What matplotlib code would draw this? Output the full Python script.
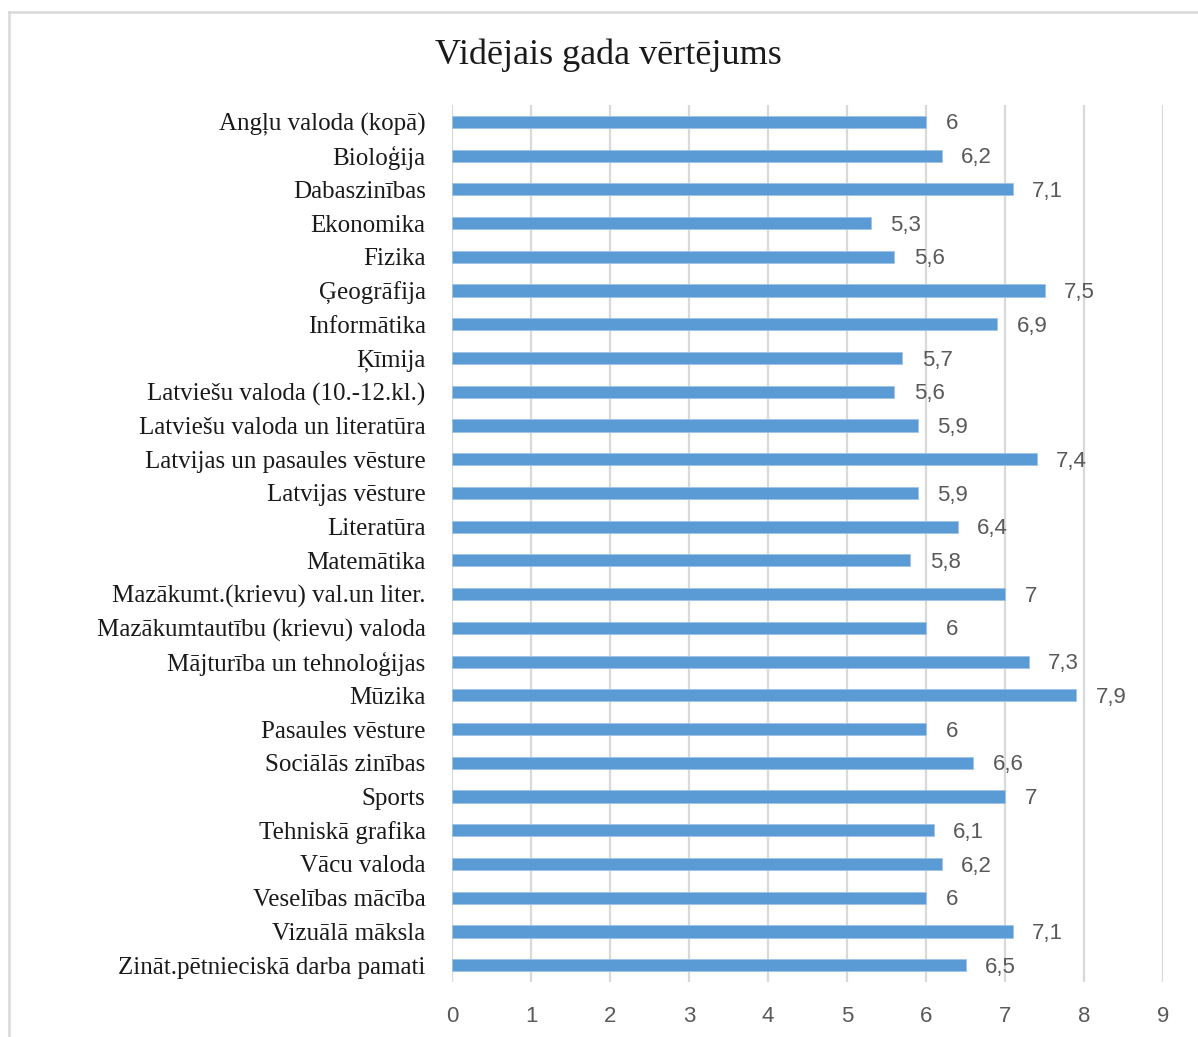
import matplotlib
matplotlib.use("Agg")
from matplotlib import pyplot as plt
from matplotlib.lines import Line2D

title = "Vidējais gada vērtējums"
subjects = [
    "Angļu valoda (kopā)",
    "Bioloģija",
    "Dabaszinības",
    "Ekonomika",
    "Fizika",
    "Ģeogrāfija",
    "Informātika",
    "Ķīmija",
    "Latviešu valoda (10.-12.kl.)",
    "Latviešu valoda un literatūra",
    "Latvijas un pasaules vēsture",
    "Latvijas vēsture",
    "Literatūra",
    "Matemātika",
    "Mazākumt.(krievu) val.un liter.",
    "Mazākumtautību (krievu) valoda",
    "Mājturība un tehnoloģijas",
    "Mūzika",
    "Pasaules vēsture",
    "Sociālās zinības",
    "Sports",
    "Tehniskā grafika",
    "Vācu valoda",
    "Veselības mācība",
    "Vizuālā māksla",
    "Zināt.pētnieciskā darba pamati",
]
grades = [6, 6.2, 7.1, 5.3, 5.6, 7.5, 6.9, 5.7, 5.6, 5.9, 7.4, 5.9, 6.4,
          5.8, 7, 6, 7.3, 7.9, 6, 6.6, 7, 6.1, 6.2, 6, 7.1, 6.5]
x_ticks = list(range(10))

bar_color = "#5B9BD5"
grid_color = "#D9D9D9"
text_gray = "#595959"

fig = plt.figure(figsize=(11.98, 10.37), dpi=100)
ax = fig.add_axes([0.3773, 0.053, 0.5935, 0.8457])

pos = list(range(len(subjects)))
ax.barh(pos, grades, height=0.36, color=bar_color, edgecolor="#9DC3E6",
        linewidth=0.6, zorder=3)

# value labels use a decimal comma like the original
for y, v in zip(pos, grades):
    lbl = f"{v:g}".replace(".", ",")
    ax.annotate(lbl, (v, y), xytext=(14, -1.5), textcoords="offset points",
                va="center", ha="left", fontsize=16, color=text_gray,
                family="Liberation Sans")

ax.set_xlim(0, 9)
ax.set_ylim(len(subjects) - 0.5, -0.5)
ax.set_xticks(x_ticks)
ax.set_xticklabels([str(t) for t in x_ticks], fontsize=16, color=text_gray,
                   family="Liberation Sans")
ax.set_yticks(pos)
ax.set_yticklabels(subjects, fontsize=18, color="#1a1a1a",
                   family="Liberation Serif")
ax.tick_params(axis="both", length=0)
ax.tick_params(axis="y", pad=19)
ax.tick_params(axis="x", pad=17)
ax.grid(axis="x", color=grid_color, linewidth=1.6, zorder=0)
for s in ax.spines.values():
    s.set_visible(False)

fig.text(0.508, 0.947, title, ha="center", va="center", fontsize=26,
         family="Liberation Serif", color="#1a1a1a")

# chart frame (top and left edges are visible in the original)
fig.add_artist(Line2D([0.0075, 0.0075], [0, 0.9885], color=grid_color,
                      linewidth=1.8, transform=fig.transFigure))
fig.add_artist(Line2D([0.0075, 1], [0.9885, 0.9885], color=grid_color,
                      linewidth=1.8, transform=fig.transFigure))

fig.savefig("out.png", dpi=100)
